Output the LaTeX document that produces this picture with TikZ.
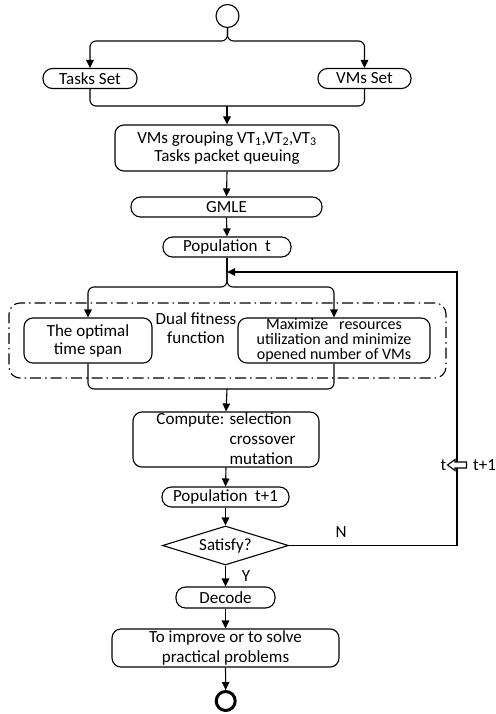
\documentclass[tikz,border=0pt]{standalone}
\usepackage{fontspec}
\setmainfont{Carlito}
\usetikzlibrary{shapes.geometric,arrows.meta}
\begin{document}
\begin{tikzpicture}[x=1pt,y=-1pt,
  every node/.style={font=\fontsize{17}{19}\selectfont, inner sep=0pt},
  lw/.style={line width=1.1pt},
  stadium/.style={lw, draw, rectangle, rounded corners=9.5pt, align=center},
  rbox/.style={lw, draw, rectangle, rounded corners=9pt, align=center},
  arr/.style={lw, -{Triangle[length=8pt,width=7.5pt]}},
  conn/.style={lw, rounded corners=6pt}
]
\useasboundingbox (0,0) rectangle (495,714);

% nodes
\node[lw, draw, circle, minimum size=23pt] (start) at (227.5,16) {};
\node[stadium, minimum width=94pt, minimum height=20pt] (tasks) at (90,78.5) {Tasks Set};
\node[stadium, minimum width=93pt, minimum height=20pt] (vms) at (364.5,78.5) {VMs Set};
\node[rbox, minimum width=224pt, minimum height=46pt] (vmg) at (227,148)
  {VMs grouping VT\textsubscript{1},VT\textsubscript{2},VT\textsubscript{3}\\[-1pt]Tasks packet queuing};
\node[stadium, minimum width=191pt, minimum height=20pt] (gmle) at (226.5,207) {GMLE};
\node[stadium, minimum width=128pt, minimum height=20pt] (popt) at (227,247) {Population~~t};

\node[lw, draw, rectangle, rounded corners=11pt, minimum width=437pt, minimum height=75pt,
  dash pattern=on 11pt off 4pt on 1.5pt off 4pt] (frame) at (227.5,340.5) {};
\node[rbox, minimum width=128pt, minimum height=45pt, font=\fontsize{17}{18}\selectfont] (opt) at (88,340.5)
  {The optimal\\time span};
\node[rbox, minimum width=192pt, minimum height=45pt, font=\fontsize{16}{15}\selectfont] (maxr) at (334,340.5)
  {Maximize~~ resources\\utilization and minimize\\opened number of VMs};
\node[align=center, font=\fontsize{17}{19}\selectfont] (dual) at (196,328.5) {Dual fitness\\function};

\node[rbox, minimum width=186pt, minimum height=55pt, align=left, font=\fontsize{17}{20}\selectfont] (comp) at (226,439.5)
  {Compute: selection\\\phantom{Compute: }crossover\\\phantom{Compute: }mutation};
\node[stadium, minimum width=127pt, minimum height=20pt] (popt1) at (225.5,497) {Population~~t+1};
\node[lw, draw, diamond, aspect=3.2, minimum width=126pt, minimum height=39pt, inner sep=0pt] (sat) at (225.5,545.5) {};
\node (sattxt) at (225.5,545.5) {Satisfy?};
\node[stadium, minimum width=99pt, minimum height=21pt] (decode) at (225.5,597.5) {Decode};
\node[rbox, minimum width=227pt, minimum height=38pt, font=\fontsize{17}{20}\selectfont] (final) at (225.5,648)
  {To improve or to solve\\practical problems};
\node[draw, circle, line width=3pt, minimum size=19pt] (end) at (225.7,701) {};

% coordinates
\coordinate (s1) at (227.5,41);
\coordinate (m1) at (227,106);
\coordinate (j) at (227,272);
\coordinate (b1) at (227,287);
\coordinate (m2) at (227,389);
\coordinate (fb1) at (457,545.5);
\coordinate (fb2) at (457,272);

% connectors
\draw[arr, rounded corners=6pt] (start.south) -- (s1) -| (tasks.north);
\draw[arr, rounded corners=6pt] (start.south) -- (s1) -| (vms.north);
\draw[conn] (tasks.south) |- (m1) -| (vms.south);
\draw[arr] (m1) -- (vmg.north);
\draw[arr] (vmg.south) -- (gmle.north);
\draw[arr] (gmle.south) -- (popt.north);
\draw[lw] (popt.south) -- (j);
\draw[arr, rounded corners=6pt] (j) -- (b1) -| (opt.north);
\draw[arr, rounded corners=6pt] (j) -- (b1) -| (maxr.north);
\draw[conn] (opt.south) |- (m2) -| (maxr.south);
\draw[arr] (m2) -- (comp.north);
\draw[arr] (comp.south) -- (popt1.north);
\draw[arr] (popt1.south) -- (sat.north);
\draw[arr] (sat.east) -- (fb1) -- (fb2) -- (j);
\draw[arr] (sat.south) -- (decode.north);
\draw[arr] (decode.south) -- (final.north);
\draw[arr] (final.south) -- (end.north);

% labels
\node (nlbl) at (341,532) {N};
\node (ylbl) at (246,576) {Y};
\draw[lw, fill=white, line join=miter] (447.5,465) -- (455,459.5) -- (455,462) -- (466.5,462)
  -- (466.5,468) -- (455,468) -- (455,470.5) -- cycle;
\node[anchor=east] (tl) at (446.5,465) {t};
\node[anchor=west] (tl1) at (473,465) {t+1};
\end{tikzpicture}
\end{document}
